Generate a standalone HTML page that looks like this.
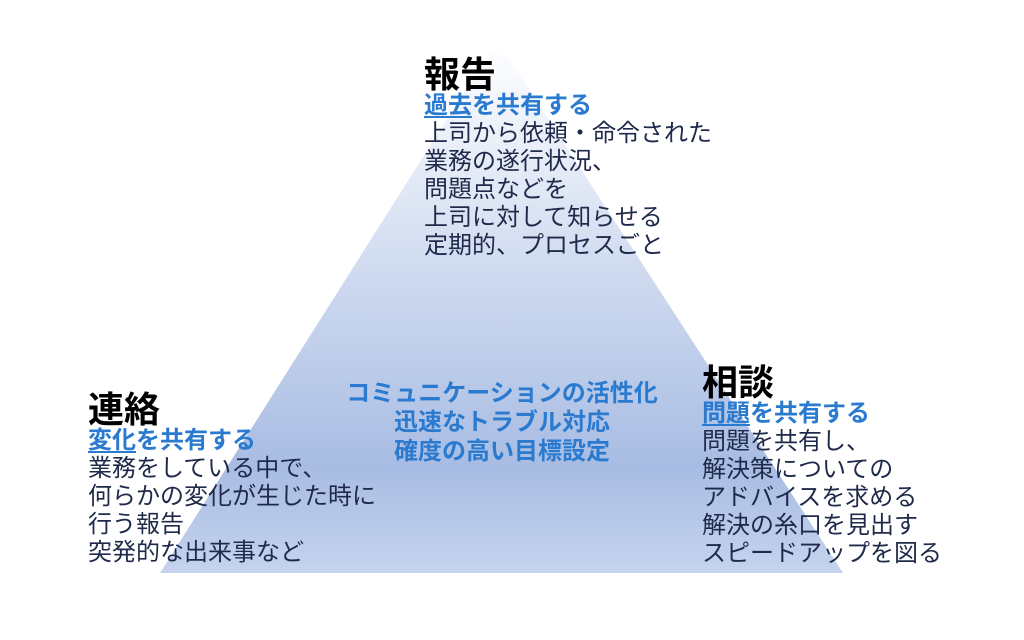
<!DOCTYPE html>
<html><head><meta charset="utf-8">
<style>
html,body{margin:0;padding:0;width:1024px;height:640px;background:#fff;overflow:hidden;position:relative}
.t{position:absolute;font-family:"Liberation Sans","Noto Sans CJK JP",sans-serif;white-space:nowrap;color:#1f2a4a;font-size:24px;line-height:28px}
.h{font-size:36px;line-height:34px;color:#000;font-weight:bold}
.s{color:#2a7bd0;font-weight:bold;font-size:24px}
.s u{text-decoration-thickness:2px;text-underline-offset:3px}
.c{color:#2a7bd0;font-weight:bold;text-align:center;line-height:29px;font-size:24px}
</style></head><body>
<svg width="1024" height="640" style="position:absolute;left:0;top:0">
<defs><linearGradient id="g" x1="0" y1="40" x2="0" y2="573" gradientUnits="userSpaceOnUse">
<stop offset="0" stop-color="#ffffff"/>
<stop offset="0.8" stop-color="#a8bce3"/>
<stop offset="1" stop-color="#c5d3ee"/>
</linearGradient></defs>
<polygon points="497,40 160,573 843,573" fill="url(#g)"/>
</svg>
<div class="t" style="left:424px;top:58px">
<div class="h">報告</div>
<div class="s"><u>過去</u>を共有する</div>
<div>上司から依頼・命令された</div>
<div>業務の遂行状況、</div>
<div>問題点などを</div>
<div>上司に対して知らせる</div>
<div>定期的、プロセスごと</div>
</div>
<div class="t" style="left:88px;top:393px">
<div class="h">連絡</div>
<div class="s"><u>変化</u>を共有する</div>
<div>業務をしている中で、</div>
<div>何らかの変化が生じた時に</div>
<div>行う報告</div>
<div>突発的な出来事など</div>
</div>
<div class="t" style="left:702px;top:366px">
<div class="h">相談</div>
<div class="s"><u>問題</u>を共有する</div>
<div>問題を共有し、</div>
<div>解決策についての</div>
<div>アドバイスを求める</div>
<div>解決の糸口を見出す</div>
<div>スピードアップを図る</div>
</div>
<div class="t c" style="left:302px;width:400px;top:379px">
<div>コミュニケーションの活性化</div>
<div>迅速なトラブル対応</div>
<div>確度の高い目標設定</div>
</div>
</body></html>
